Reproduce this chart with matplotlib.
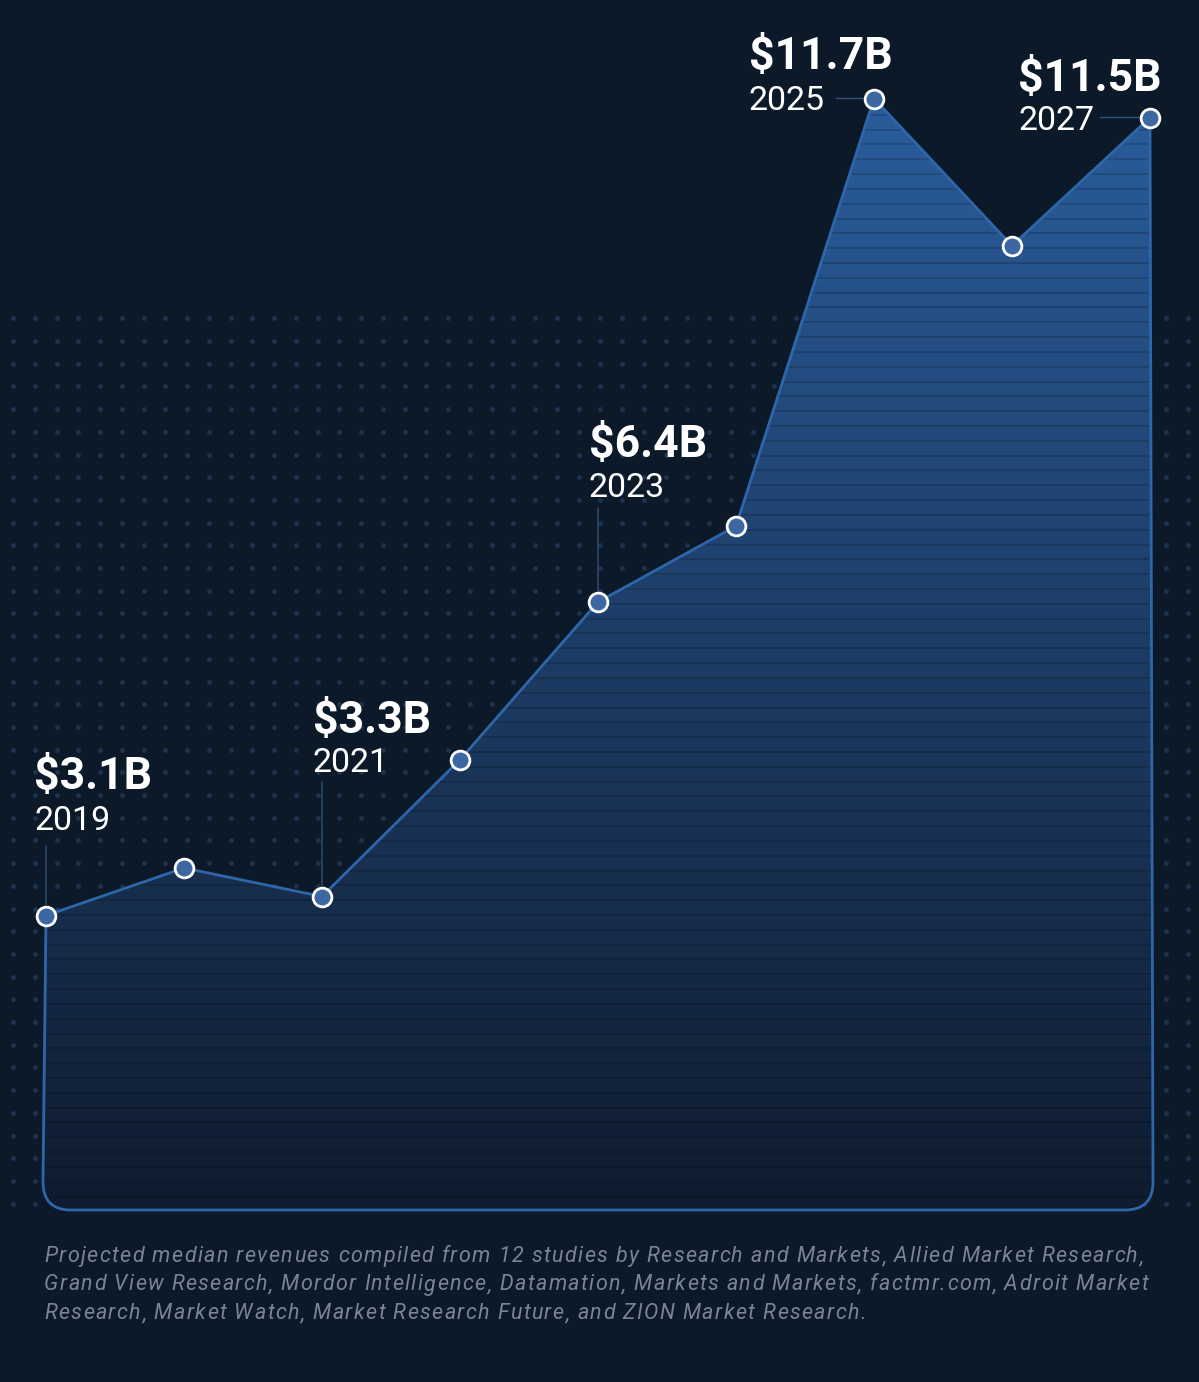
import numpy as np
import matplotlib.pyplot as plt
from matplotlib.path import Path
from matplotlib.patches import PathPatch
from matplotlib.font_manager import FontProperties

# data
years = [2019, 2020, 2021, 2022, 2023, 2024, 2025, 2026, 2027]
revenue = [3.1, 3.6, 3.3, 4.74, 6.4, 7.2, 11.7, 10.15, 11.5]
label_years = [2019, 2021, 2023, 2025, 2027]
label_values = ['$3.1B', '$3.3B', '$6.4B', '$11.7B', '$11.5B']
note_lines = [
    "Projected median revenues compiled from 12 studies by Research and Markets, Allied Market Research,",
    "Grand View Research, Mordor Intelligence, Datamation, Markets and Markets, factmr.com, Adroit Market",
    "Research, Market Watch, Market Research Future, and ZION Market Research.",
]

# label placement (pixel offsets from the point)
val_off = [(-12, 126), (-9, 164), (-9, 145), (-125, 29), (-132, 27)]
year_off = [(-12, 86), (-9, 124), (-9, 105), (-125, -11), (-132, -13)]
lead_off = [(0, 70), (0, 115), (0, 94), (-38, 0), (-50, 0)]

BG = '#0c1929'
LINE = '#2e66aa'
W, H = 1199, 1382

fig = plt.figure(figsize=(W / 100, H / 100), dpi=100, facecolor=BG)
ax = fig.add_axes([0, 0, 1, 1])
ax.set_facecolor(BG)
ax.axis('off')

# pixel <-> data mapping (2019 at x=46px, 138px per year; 0 at y=1210px, 95px per B)
XPX, YPX = 138.0, 95.0
def px2x(px):
    return 2019 + (px - 46) / XPX
def px2y(py):
    return (1210 - py) / YPX

ax.set_xlim(px2x(0), px2x(W))
ax.set_ylim(px2y(H), px2y(0))

# dotted background
gx = 13 + 21.75 * np.arange(55)
gy = 318.3 + 22.7 * np.arange(40)
GX, GY = np.meshgrid(gx, gy)
ax.scatter(px2x(GX.ravel()), px2y(GY.ravel()), s=12, color='#1d3351',
           linewidths=0, zorder=1)

# area outline with rounded bottom corners
rx, ry = 28 / XPX, 28 / YPX
xl, xr = px2x(43), px2x(1153)
verts = [(x, y) for x, y in zip(years, revenue)]
codes = [Path.MOVETO] + [Path.LINETO] * (len(years) - 1)
verts += [(xr, ry), (xr, 0), (xr - rx, 0), (xl + rx, 0), (xl, 0), (xl, ry),
          (years[0], revenue[0])]
codes += [Path.LINETO, Path.CURVE3, Path.CURVE3, Path.LINETO, Path.CURVE3,
          Path.CURVE3, Path.LINETO]
area = Path(verts, codes)

# gradient fill with horizontal stripes
top_px, bot_px = 90, 1215
rows = np.arange(top_px, bot_px)
t = (rows - 99) / (1210 - 99)
t = np.clip(t, 0, 1)
c_top = np.array([42, 93, 156]) / 255
c_bot = np.array([15, 27, 46]) / 255
cols = c_top[None, :] * (1 - t[:, None]) + c_bot[None, :] * t[:, None]
stripe = ((1197 - rows) % 14.817) < 2.0
cols[stripe] *= 0.84
img = np.repeat(cols[:, None, :], 2, axis=1)
im = ax.imshow(img, extent=(xl, xr, px2y(bot_px), px2y(top_px)),
               origin='upper', aspect='auto', zorder=2, interpolation='nearest')
patch = PathPatch(area, facecolor='none', edgecolor='none')
ax.add_patch(patch)
im.set_clip_path(patch)

ax.add_patch(PathPatch(area, facecolor='none', edgecolor=LINE, lw=2.0,
                       zorder=3, joinstyle='round'))
ax.set_xlim(px2x(0), px2x(W))
ax.set_ylim(px2y(H), px2y(0))

# points
ax.plot(years, revenue, 'o', ms=13.5, mfc='#3d67a2', mec='white', mew=2.0,
        zorder=5, linestyle='none')

# labels and leader lines
for i, (yr, lab) in enumerate(zip(label_years, label_values)):
    v = revenue[years.index(yr)]
    ax.annotate('', xy=(yr, v), xytext=lead_off[i], textcoords='offset pixels',
                arrowprops=dict(arrowstyle='-', color='#35577f', lw=0.9,
                                shrinkA=0, shrinkB=8), zorder=4)
    ax.annotate(lab, xy=(yr, v), xytext=val_off[i], textcoords='offset pixels',
                ha='left', va='baseline', color='white', fontsize=32,
                fontweight='bold', family='Roboto', zorder=6)
    ax.annotate(str(yr), xy=(yr, v), xytext=year_off[i], textcoords='offset pixels',
                ha='left', va='baseline', color='white', fontsize=24.5,
                family='Roboto', zorder=6)

# footnote, letter-spaced
fp = FontProperties(family='Roboto', style='italic', size=15.5)
renderer = fig.canvas.get_renderer()
track = 1.4
for k, line in enumerate(note_lines):
    yb = 1 - (1262 + 28.5 * k) / H
    for i, ch in enumerate(line):
        if ch == ' ':
            continue
        w = renderer.get_text_width_height_descent(line[:i], fp, ismath=False)[0] if i else 0
        xp = 44 + w + track * i
        fig.text(xp / W, yb, ch, ha='left', va='baseline', color='#7a8494',
                 fontproperties=fp)

fig.savefig('out.png', dpi=100, facecolor=BG)
